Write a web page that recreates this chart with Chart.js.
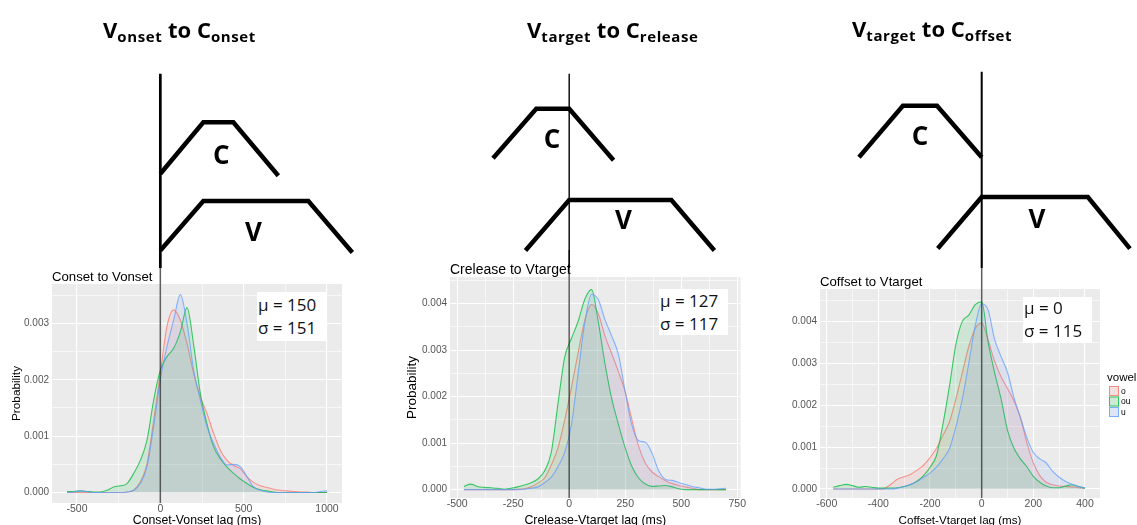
<!DOCTYPE html>
<html>
<head>
<meta charset="utf-8">
<script src="https://cdn.jsdelivr.net/npm/chart.js@4.4.1/dist/chart.umd.min.js"></script>
<style>
html, body { margin: 0; padding: 0; background: #fff; }
#page { position: relative; width: 1137px; height: 525px; overflow: hidden; }
#page canvas { position: absolute; }
.head { position: absolute; font-family: "Open Sans", sans-serif; font-weight: bold; font-size: 22px; line-height: 22px; white-space: nowrap; color: #000; }
.head sub { font-size: 15px; letter-spacing: 0.6px; vertical-align: baseline; position: relative; top: 4px; }
.stat { position: absolute; background: #fff; box-sizing: border-box; padding-left: 1px; font-family: "Open Sans", sans-serif; font-size: 17px; line-height: 22.5px; color: #111; white-space: nowrap; }
</style>
</head>
<body>
<div id="page"></div>
<script>
var vowels = ['o', 'ou', 'u'];
var vowelColors = ['248,118,109', '0,186,56', '97,156,255'];

// Conset to Vonset
var p1X = [-560, -520, -480, -440, -400, -360, -320, -280, -240, -200, -160, -120, -80, -40, 0, 40, 80, 120, 160, 200,
  240, 280, 320, 360, 400, 440, 480, 520, 560, 600, 640, 680, 720, 760, 800, 840, 880, 920, 960, 1000];
var p1O = [0, 0, 0, 0, 0, 0, 0, 0, 0, 0.00001, 0.00004, 0.00019, 0.00051, 0.00128, 0.00211, 0.00295, 0.00324, 0.00306, 0.00264, 0.00211,
  0.00170, 0.00140, 0.00105, 0.00075, 0.00057, 0.00048, 0.00042, 0.00028, 0.00018, 0.00012, 0.00009, 0.00006, 0.00004, 0.00003, 0.00002, 0.00001, 0.00001, 0, 0, 0];
var p1OU = [0.00002, 0.00002, 0.00003, 0.00002, 0.00001, 0.00001, 0.00004, 0.00010, 0.00012, 0.00016, 0.00034, 0.00057, 0.00093, 0.00164, 0.00217, 0.00241, 0.00256, 0.00285, 0.00328, 0.00262,
  0.00176, 0.00122, 0.00081, 0.00060, 0.00045, 0.00034, 0.00024, 0.00016, 0.00009, 0.00005, 0.00003, 0.00001, 0, 0, 0, 0, 0, 0, 0, 0];
var p1U = [0, 0.00001, 0.00003, 0.00002, 0, 0, 0, 0, 0, 0.00001, 0.00004, 0.00016, 0.00046, 0.00117, 0.00200, 0.00259, 0.00306, 0.00351, 0.00300, 0.00217,
  0.00164, 0.00117, 0.00087, 0.00063, 0.00049, 0.00050, 0.00046, 0.00028, 0.00010, 0.00004, 0.00001, 0, 0, 0, 0, 0, 0, 0, 0.00002, 0.00003];
var p1XTicks = [-500, 0, 500, 1000];
var p1YTicks = [0, 0.001, 0.002, 0.003];

// Crelease to Vtarget
var p2X = [-470, -440, -410, -380, -350, -320, -290, -260, -230, -200, -170, -140, -110, -80, -50, -20, 10, 40, 70, 100,
  130, 160, 190, 220, 250, 280, 310, 340, 370, 400, 430, 460, 490, 520, 550, 580, 610, 640, 670, 700];
var p2O = [0, 0, 0, 0, 0, 0, 0, 0, 0.00001, 0.00002, 0.00006, 0.00014, 0.00025, 0.00053, 0.00090, 0.00150, 0.00220, 0.00295, 0.00365, 0.00398,
  0.00378, 0.00330, 0.00292, 0.00253, 0.00210, 0.00150, 0.00093, 0.00057, 0.00038, 0.00028, 0.00019, 0.00013, 0.00009, 0.00006, 0.00003, 0, 0, 0, 0, 0];
var p2OU = [0.00007, 0.00012, 0.00007, 0.00005, 0.00004, 0.00003, 0.00001, 0.00003, 0.00006, 0.00010, 0.00015, 0.00023, 0.00040, 0.00080, 0.00185, 0.00285, 0.00325, 0.00362, 0.00410, 0.00430,
  0.00360, 0.00270, 0.00195, 0.00140, 0.00090, 0.00050, 0.00025, 0.00012, 0.00007, 0.00008, 0.00009, 0.00006, 0.00002, 0, 0, 0, 0, 0, 0, 0];
var p2U = [0, 0, 0, 0, 0, 0, 0, 0, 0, 0.00001, 0.00003, 0.00006, 0.00015, 0.00027, 0.00050, 0.00080, 0.00140, 0.00250, 0.00360, 0.00420,
  0.00408, 0.00365, 0.00330, 0.00290, 0.00210, 0.00138, 0.00105, 0.00102, 0.00078, 0.00040, 0.00022, 0.00020, 0.00015, 0.00011, 0.00007, 0.00004, 0.00001, 0.00001, 0.00002, 0.00003];
var p2XTicks = [-500, -250, 0, 250, 500, 750];
var p2YTicks = [0, 0.001, 0.002, 0.003, 0.004];

// Coffset to Vtarget
var p3X = [-575, -550, -525, -500, -475, -450, -425, -400, -375, -350, -325, -300, -275, -250, -225, -200, -175, -150, -125, -100,
  -75, -50, -25, 0, 25, 50, 75, 100, 125, 150, 175, 200, 225, 250, 275, 300, 325, 350, 375, 400];
var p3O = [0, 0, 0, 0, 0, 0, 0, 0, 0.00002, 0.00012, 0.00024, 0.00029, 0.00035, 0.00045, 0.00057, 0.00075, 0.00097, 0.00128, 0.00160, 0.00215,
  0.00278, 0.00340, 0.00383, 0.00396, 0.00355, 0.00305, 0.00268, 0.00240, 0.00210, 0.00170, 0.00110, 0.00062, 0.00032, 0.00016, 0.00010, 0.00007, 0.00006, 0.00005, 0.00003, 0.00002];
var p3OU = [0.00004, 0.00008, 0.00011, 0.00008, 0.00004, 0.00006, 0.00004, 0.00002, 0.00002, 0.00002, 0.00003, 0.00006, 0.00011, 0.00019, 0.00032, 0.00052, 0.00080, 0.00155, 0.00245, 0.00345,
  0.00400, 0.00415, 0.00440, 0.00447, 0.00350, 0.00278, 0.00215, 0.00140, 0.00097, 0.00072, 0.00053, 0.00030, 0.00016, 0.00007, 0.00003, 0.00003, 0.00007, 0.00010, 0.00006, 0.00002];
var p3U = [0, 0, 0, 0, 0, 0, 0, 0, 0, 0, 0.00002, 0.00006, 0.00011, 0.00018, 0.00028, 0.00038, 0.00052, 0.00072, 0.00096, 0.00148,
  0.00215, 0.00300, 0.00390, 0.00442, 0.00427, 0.00357, 0.00316, 0.00278, 0.00218, 0.00170, 0.00122, 0.00087, 0.00072, 0.00062, 0.00042, 0.00028, 0.00018, 0.00011, 0.00006, 0.00002];
var p3XTicks = [-600, -400, -200, 0, 200, 400];
var p3YTicks = [0, 0.001, 0.002, 0.003, 0.004];

var statMu = [150, 127, 0];
var statSigma = [151, 117, 115];
var plotTitles = ['Conset to Vonset', 'Crelease to Vtarget', 'Coffset to Vtarget'];
var xTitles = ['Conset-Vonset lag (ms)', 'Crelease-Vtarget lag (ms)', 'Coffset-Vtarget lag (ms)'];
var headMain = [['V', 'C'], ['V', 'C'], ['V', 'C']];
var headSub = [['onset', 'onset'], ['target', 'release'], ['target', 'offset']];

// gesture schematics: x on the panel's lag axis (ms), y in schematic units
var p1C = [[0, 8.9], [258, 14.2], [438, 14.2], [708, 8.7]];
var p1V = [[0, 1.0], [258, 6.1], [888, 6.1], [1152, 0.8]];
var p2C = [[-340, 10.5], [-147, 15.6], [0, 15.6], [198, 10.3]];
var p2V = [[-195, 1.0], [0, 6.2], [456, 6.2], [648, 1.0]];
var p3C = [[-475, 10.6], [-305, 15.9], [-173, 15.9], [0, 10.6]];
var p3V = [[-170, 1.2], [0, 6.5], [411, 6.5], [574, 1.2]];

var panels = [
  { x: p1X, series: [p1O, p1OU, p1U], xTicks: p1XTicks, yTicks: p1YTicks, xRange: [-650, 1090], yRange: [-0.000185, 0.003698],
    c: p1C, v: p1V, cLabel: [366, 10.9], vLabel: [558, 3.0], zeroTop: 19.2,
    box: { left: 0, top: 250, w: 342, h: 275, yw: 52, xh: 22, padTop: 34, padRight: 0, titleSize: 13.2, xTitleSize: 12.3, yTitleSize: 11.8, yTitlePad: 11, yTitle: true },
    diag: { left: 0, w: 380, lineW: 2.7 }, head: { left: 103, top: 18 }, stat: { left: 257, top: 292, w: 70, h: 49, pad: 2 } },
  { x: p2X, series: [p2O, p2OU, p2U], xTicks: p2XTicks, yTicks: p2YTicks, xRange: [-532, 765], yRange: [-0.000179, 0.004571],
    c: p2C, v: p2V, cLabel: [-77, 12.5], vLabel: [242, 4.2], zeroTop: 19.2,
    box: { left: 395, top: 250, w: 352, h: 275, yw: 55, xh: 27, padTop: 27, padRight: 0, titleSize: 14, xTitleSize: 12.4, yTitleSize: 13.5, yTitlePad: 11, yTitle: true },
    diag: { left: 380, w: 380, lineW: 1.4 }, head: { left: 527, top: 18 }, stat: { left: 659, top: 289, w: 69, h: 46, pad: 1 } },
  { x: p3X, series: [p3O, p3OU, p3U], xTicks: p3XTicks, yTicks: p3YTicks, xRange: [-626, 458], yRange: [-0.000215, 0.004773],
    c: p3C, v: p3V, cLabel: [-239, 12.8], vLabel: [214, 4.3], zeroTop: 19.4,
    box: { left: 780, top: 250, w: 357, h: 275, yw: 40, xh: 27, padTop: 39, padRight: 37, titleSize: 13.2, xTitleSize: 11.6, yTitleSize: 12, yTitlePad: 0, yTitle: false },
    diag: { left: 760, w: 377, lineW: 2 }, head: { left: 852, top: 17 }, stat: { left: 1023, top: 297, w: 69, h: 46, pad: 0 } }
];

var page = document.getElementById('page');

function addCanvas(left, top, w, h) {
  var cv = document.createElement('canvas');
  cv.width = w; cv.height = h;
  cv.style.left = left + 'px'; cv.style.top = top + 'px';
  cv.style.width = w + 'px'; cv.style.height = h + 'px';
  page.appendChild(cv);
  return cv;
}

function gridTicks(majors, lo, hi) {
  var step = majors[1] - majors[0], out = [];
  majors.forEach(function (m) { out.push({ value: m }); });
  [majors[0] - step / 2].concat(majors.map(function (m) { return m + step / 2; })).forEach(function (h) {
    if (h > lo && h < hi) out.push({ value: h, minorLine: true });
  });
  out.sort(function (a, b) { return a.value - b.value; });
  return out;
}

function sansFont(size) { return { family: '"Liberation Sans", Arial, sans-serif', size: size, lineHeight: 1 }; }

var panelBack = {
  id: 'panelBack',
  beforeDraw: function (chart) {
    var a = chart.chartArea, ctx = chart.ctx;
    ctx.save();
    ctx.fillStyle = '#EBEBEB';
    ctx.fillRect(a.left, a.top, a.right - a.left, a.bottom - a.top);
    ctx.restore();
  }
};

var panelTitle = {
  id: 'panelTitle',
  afterDraw: function (chart, args, opts) {
    var ctx = chart.ctx;
    ctx.save();
    ctx.font = opts.size + 'px "Liberation Sans", Arial, sans-serif';
    ctx.fillStyle = '#000';
    ctx.textBaseline = 'alphabetic';
    ctx.fillText(opts.text, chart.chartArea.left, chart.chartArea.top - 3);
    ctx.restore();
  }
};

var vowelLegend = {
  id: 'vowelLegend',
  afterDraw: function (chart) {
    var ctx = chart.ctx, a = chart.chartArea;
    var x = a.right + 7, mid = (a.top + a.bottom) / 2;
    ctx.save();
    ctx.fillStyle = '#000';
    ctx.font = '11.5px "Liberation Sans", Arial, sans-serif';
    ctx.fillText('vowel', x, mid - 12.5);
    vowels.forEach(function (v, i) {
      var ky = mid - 7.5 + i * 10.5;
      ctx.fillStyle = '#F2F2F2';
      ctx.fillRect(x + 2, ky, 10, 10);
      ctx.fillStyle = 'rgba(' + vowelColors[i] + ',0.14)';
      ctx.fillRect(x + 2, ky, 10, 10);
      ctx.strokeStyle = 'rgba(' + vowelColors[i] + ',0.8)';
      ctx.lineWidth = 1;
      ctx.strokeRect(x + 2.5, ky + 0.5, 9, 9);
      ctx.fillStyle = '#000';
      ctx.font = '8.5px "Liberation Sans", Arial, sans-serif';
      ctx.fillText(v, x + 14, ky + 7.5);
    });
    ctx.restore();
  }
};

var gestureLabels = {
  id: 'gestureLabels',
  afterDatasetsDraw: function (chart, args, opts) {
    var ctx = chart.ctx, xs = chart.scales.x, ys = chart.scales.y;
    ctx.save();
    ctx.font = 'bold 26px "Open Sans", sans-serif';
    ctx.textAlign = 'center';
    ctx.textBaseline = 'alphabetic';
    ctx.fillStyle = '#000';
    for (var i = 0; i < opts.items.length; i++) {
      var it = opts.items[i];
      ctx.fillText(it.text, xs.getPixelForValue(it.x), ys.getPixelForValue(it.y) + 9.4);
    }
    ctx.restore();
  }
};

function schematicLine(points, width) {
  return {
    data: points.map(function (pt) { return { x: pt[0], y: pt[1] }; }),
    borderColor: '#000', borderWidth: width, pointRadius: 0, fill: false, tension: 0,
    borderJoinStyle: 'miter', borderCapStyle: 'butt'
  };
}

panels.forEach(function (p, k) {
  var b = p.box;
  var sets = [{
    data: [{ x: 0, y: p.yRange[0] }, { x: 0, y: 1 }],
    borderColor: 'rgba(40,40,40,0.75)', borderWidth: 1.5, pointRadius: 0, fill: false, clip: false, tension: 0
  }];
  for (var i = vowels.length - 1; i >= 0; i--) {
    var ys = p.series[i];
    sets.push({
      label: vowels[i],
      data: p.x.map(function (xv, j) { return { x: xv, y: ys[j] }; }),
      borderColor: 'rgba(' + vowelColors[i] + ',0.75)',
      backgroundColor: 'rgba(' + vowelColors[i] + ',0.12)',
      borderWidth: 1.1, pointRadius: 0, fill: 'origin', cubicInterpolationMode: 'monotone'
    });
  }

  var xGrid = gridTicks(p.xTicks, p.xRange[0], p.xRange[1]);
  var yGrid = gridTicks(p.yTicks, p.yRange[0], p.yRange[1]);
  var gridOpts = {
    color: '#fff',
    lineWidth: function (ctx) { return ctx.tick && ctx.tick.minorLine ? 0.6 : 1.1; },
    drawTicks: false
  };

  var cv = addCanvas(b.left, b.top, b.w, b.h);
  var plugins = [panelBack, panelTitle];
  if (k === 2) plugins.push(vowelLegend);
  var dens = new Chart(cv, {
    type: 'line',
    data: { datasets: sets },
    options: {
      animation: false, responsive: false, events: [],
      layout: { padding: { top: b.padTop, right: b.padRight, left: 0, bottom: 0 } },
      scales: {
        x: {
          type: 'linear', min: p.xRange[0], max: p.xRange[1],
          afterBuildTicks: function (s) { s.ticks = xGrid.map(function (t) { return { value: t.value, minorLine: t.minorLine }; }); },
          afterFit: function (s) { s.height = b.xh; },
          grid: gridOpts, border: { display: false },
          ticks: {
            color: '#555', font: sansFont(10.5), padding: 1, maxRotation: 0, autoSkip: false,
            callback: function (v, idx, ticks) { return ticks[idx].minorLine ? '' : String(v); }
          },
          title: { display: true, text: xTitles[k], color: '#000', font: sansFont(b.xTitleSize), padding: { top: 0, bottom: -2 } }
        },
        y: {
          type: 'linear', min: p.yRange[0], max: p.yRange[1],
          afterBuildTicks: function (s) { s.ticks = yGrid.map(function (t) { return { value: t.value, minorLine: t.minorLine }; }); },
          afterFit: function (s) { s.width = b.yw; },
          grid: gridOpts, border: { display: false },
          ticks: {
            color: '#555', font: sansFont(10), padding: 3, autoSkip: false,
            callback: function (v, idx, ticks) { return ticks[idx].minorLine ? '' : v.toFixed(3); }
          },
          title: { display: b.yTitle, text: 'Probability', color: '#000', font: sansFont(b.yTitleSize), padding: { top: b.yTitlePad, bottom: 0 } }
        }
      },
      plugins: {
        legend: { display: false }, tooltip: { enabled: false },
        panelTitle: { text: plotTitles[k], size: b.titleSize }
      }
    },
    plugins: plugins
  });

  // schematic above the plot shares the plot's lag axis
  var xs = dens.scales.x, d = p.diag;
  var dcv = addCanvas(d.left, 0, d.w, 268);
  var zeroLine = schematicLine([[0, p.zeroTop], [0, -0.8]], d.lineW);
  new Chart(dcv, {
    type: 'line',
    data: { datasets: [schematicLine(p.c, 4.5), schematicLine(p.v, 4.5), zeroLine] },
    options: {
      animation: false, responsive: false, events: [],
      layout: { padding: 0 },
      scales: {
        x: { type: 'linear', display: false, min: xs.getValueForPixel(d.left - b.left), max: xs.getValueForPixel(d.left + d.w - b.left) },
        y: { type: 'linear', display: false, min: -0.8, max: 26.8 }
      },
      plugins: {
        legend: { display: false }, tooltip: { enabled: false },
        gestureLabels: { items: [{ text: 'C', x: p.cLabel[0], y: p.cLabel[1] }, { text: 'V', x: p.vLabel[0], y: p.vLabel[1] }] }
      }
    },
    plugins: [gestureLabels]
  });

  var head = document.createElement('div');
  head.className = 'head';
  head.style.left = p.head.left + 'px';
  head.style.top = p.head.top + 'px';
  head.innerHTML = headMain[k][0] + '<sub>' + headSub[k][0] + '</sub> to ' + headMain[k][1] + '<sub>' + headSub[k][1] + '</sub>';
  page.appendChild(head);

  var st = document.createElement('div');
  st.className = 'stat';
  st.style.left = p.stat.left + 'px';
  st.style.top = p.stat.top + 'px';
  st.style.width = p.stat.w + 'px';
  st.style.height = p.stat.h + 'px';
  st.style.paddingTop = p.stat.pad + 'px';
  st.innerHTML = 'μ = ' + statMu[k] + '<br>σ = ' + statSigma[k];
  page.appendChild(st);
});
</script>
</body>
</html>
